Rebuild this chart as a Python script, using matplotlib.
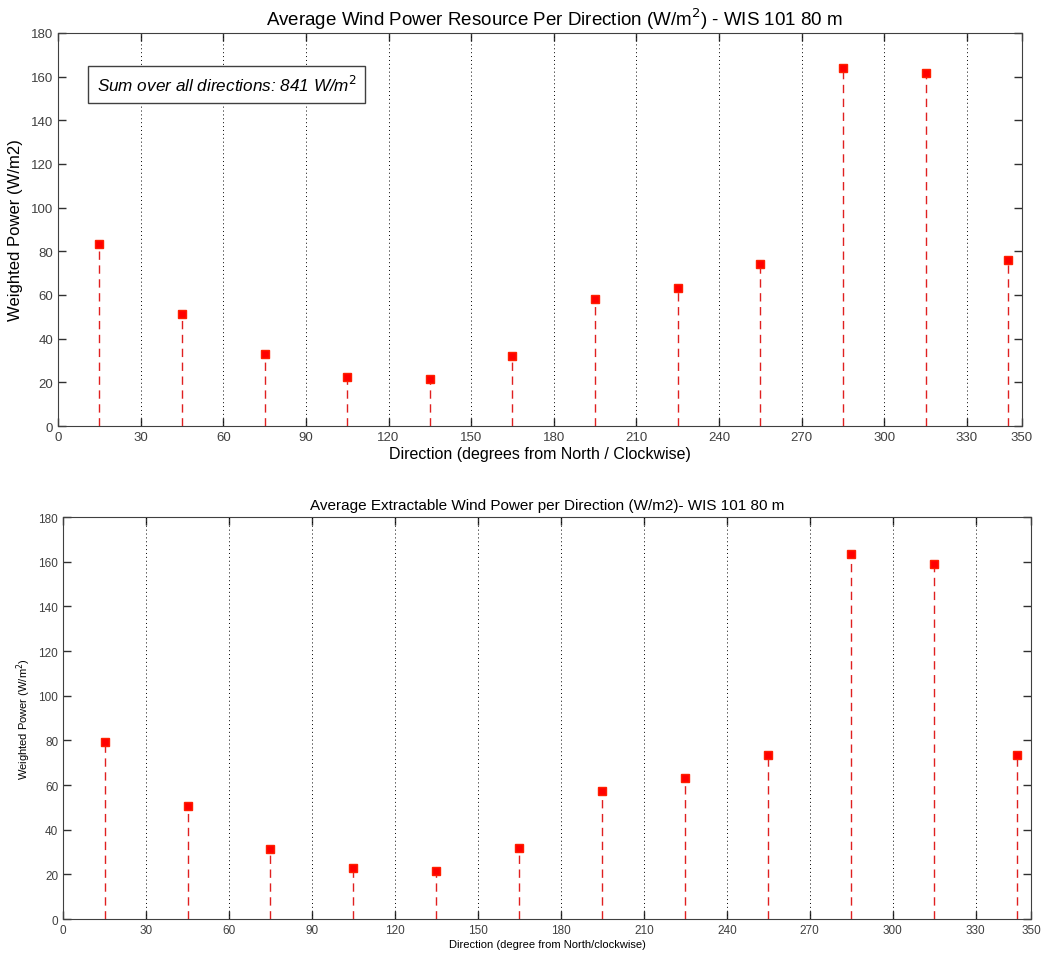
import matplotlib
matplotlib.use('Agg')
import matplotlib.pyplot as plt
import numpy as np

# direction bins (degrees) - centres of the 30 deg sectors
directions = [15, 45, 75, 105, 135, 165, 195, 225, 255, 285, 315, 345]
# top panel: average wind power resource
resource_power = [83.3, 51.3, 32.9, 22.6, 21.4, 32.1, 58.2, 63.3, 74.0, 164.1, 161.5, 76.0]
# bottom panel: average extractable wind power
extract_power = [79.4, 50.5, 31.3, 22.7, 21.3, 31.9, 57.5, 63.0, 73.3, 163.5, 158.9, 73.5]
xticks = [0, 30, 60, 90, 120, 150, 180, 210, 240, 270, 300, 330, 350]
yticks = list(range(0, 181, 20))
grid_x = list(range(30, 331, 30))

plt.rcParams['font.family'] = ['Liberation Sans', 'DejaVu Sans']


def stem_panel(ax, x, y, tick_font):
    for xi, yi in zip(x, y):
        ax.plot([xi, xi], [0, yi], color='#e02020', linestyle=(0, (6, 4)), linewidth=1.0)
    ax.plot(x, y, linestyle='none', marker='s', markersize=6,
            markerfacecolor='#ff0000', markeredgecolor='#ff2000')
    for g in grid_x:
        ax.axvline(g, color='black', linestyle=(0, (1, 3)), linewidth=0.7)
    ax.set_xlim(0, 350)
    ax.set_ylim(0, 180)
    ax.set_xticks(xticks)
    ax.set_yticks(yticks)
    ax.tick_params(direction='in', top=True, right=True, length=6, width=1.0,
                   colors='#303030', labelcolor='#404040', **tick_font)
    for s in ax.spines.values():
        s.set_color('#404040')


fig = plt.figure(figsize=(10.42, 9.54), dpi=100)

# top panel
ax1 = fig.add_axes([0.0557, 0.5524, 0.925, 0.412])
stem_panel(ax1, directions, resource_power, {'labelsize': 9.5})
ax1.set_title('Average Wind Power Resource Per Direction (W/m$^2$) - WIS 101 80 m',
              fontsize=13.5, pad=6, x=0.515)
ax1.set_ylabel('Weighted Power (W/m2)', fontsize=12, labelpad=6)
ax1.set_xlabel('Direction (degrees from North / Clockwise)', fontsize=11.5, labelpad=2)
ax1.text(14, 156.5, 'Sum over all directions: 841 W/m$^2$', fontsize=12.3, style='italic',
         va='center', ha='left',
         bbox=dict(boxstyle='square,pad=0.5', facecolor='white', edgecolor='#404040',
                   linewidth=1.0))

# bottom panel
ax2 = fig.add_axes([0.0605, 0.0356, 0.929, 0.4214])
stem_panel(ax2, directions, extract_power, {'labelsize': 8.5})
ax2.set_title('Average Extractable Wind Power per Direction (W/m2)- WIS 101 80 m',
              fontsize=11, pad=6)
ax2.set_ylabel('Weighted Power (W/m$^2$)', fontsize=8)
ax2.set_xlabel('Direction (degree from North/clockwise)', fontsize=8, labelpad=2)

fig.savefig('out.png', dpi=100)
